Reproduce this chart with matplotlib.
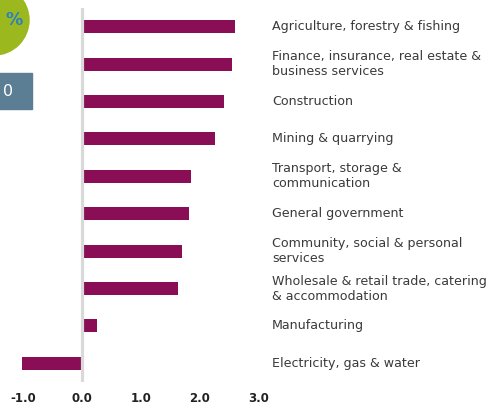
import matplotlib.pyplot as plt
from matplotlib.patches import Ellipse, Rectangle

W, H = 494, 409

sectors = [
    'Agriculture, forestry & fishing',
    'Finance, insurance, real estate &\nbusiness services',
    'Construction',
    'Mining & quarrying',
    'Transport, storage &\ncommunication',
    'General government',
    'Community, social & personal\nservices',
    'Wholesale & retail trade, catering\n& accommodation',
    'Manufacturing',
    'Electricity, gas & water',
]
growth = [2.59, 2.54, 2.40, 2.26, 1.85, 1.81, 1.70, 1.62, 0.25, -1.02]
ticks = [-1.0, 0.0, 1.0, 2.0, 3.0]

bar_color = '#8a0e55'
grid_grey = '#d9d9d9'
text_col = '#3a3a3a'

plt.rcParams['font.family'] = ['DejaVu Sans']

fig = plt.figure(figsize=(W / 100, H / 100), dpi=100)
fig.patch.set_facecolor('white')


def fx(px):
    return px / W


def fy(py):
    return 1 - py / H


# axes spans the grey zero line, full width
ax = fig.add_axes([0, fy(382), 1, fy(8) - fy(382)])
ax.set_xlim(-82 / 59, (W - 82) / 59)
ax.set_ylim(len(sectors) - 0.5, -0.5)

ypos = list(range(len(sectors)))
ax.barh(ypos, growth, height=0.35, color=bar_color, zorder=2)
ax.axvline(0, color=grid_grey, lw=2.3, zorder=3)

for y, name in zip(ypos, sectors):
    ax.text(3.22, y, name, va='center', ha='left', fontsize=9.1,
            color=text_col, linespacing=1.2)

ax.set_xticks(ticks)
ax.set_xticklabels([f'{t:.1f}' for t in ticks], fontsize=8.5,
                   fontweight='bold', color='#222222')
ax.tick_params(axis='x', length=0, pad=7.5)
ax.set_yticks([])
for s in ax.spines.values():
    s.set_visible(False)

# pieces of the neighbouring panel on the left edge
circ = Ellipse((fx(-6), fy(20)), 70 / W, 70 / H, color='#9bb81f')
circ.set_transform(fig.transFigure)
fig.patches.append(circ)
fig.text(fx(5), fy(20), '%', ha='left', va='center', fontsize=12.5,
         fontweight='bold', color='#2a7fc1')
box = Rectangle((fx(-20), fy(109)), fx(52), 36 / H, color='#5b7e94')
box.set_transform(fig.transFigure)
fig.patches.append(box)
fig.text(fx(3), fy(91), '0', ha='left', va='center', fontsize=11.5,
         color='white')

fig.savefig('out.png', dpi=100)
